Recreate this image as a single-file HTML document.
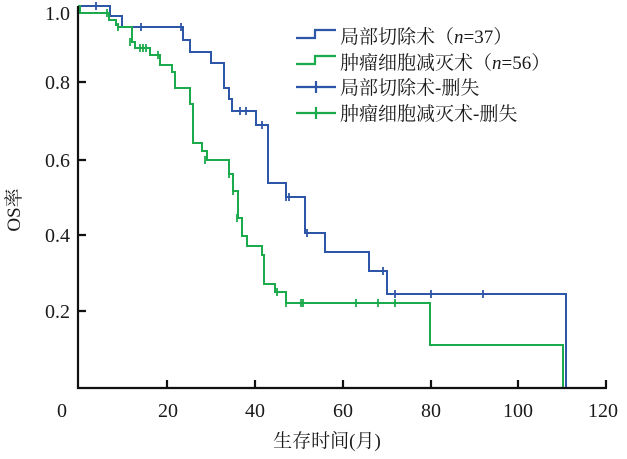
<!DOCTYPE html>
<html><head><meta charset="utf-8"><style>
body{margin:0;background:#fff}
svg text{font-family:"Liberation Serif","Noto Serif CJK SC",serif;fill:#1a1a1a}
</style></head><body>
<svg width="627" height="454" viewBox="0 0 627 454" xmlns="http://www.w3.org/2000/svg">
<g fill="none" stroke-width="2">
<path stroke="#2d56a8" d="M78,6H110V16H122V27H183V40H190V52H211V63H224V88H229V99H232V111H256V125H268V183H286V197H305V233H325V252H369V271H387V294H566V388"/>
<path stroke="#1bab4c" d="M78,6H80V13H109V20H116V25H118V27H132V42H135V48H150V55H160V65H172V72H175V88H190V104H193V143H202V151H207V160H229V174H233V191H238V218H242V236H247V246H262V255H264V284H275V292H286V303H430V345H563V388"/>
</g>
<g stroke="#2d56a8" stroke-width="1.8">
<path d="M96,2v8M141,23v8M181,23v8M240,107v8M246,107v8M262,121v8M286,193v8M289,193v8M307,229v8M383,267v8M395,290v8M431,290v8M483,290v8"/>
</g>
<g stroke="#1bab4c" stroke-width="1.8">
<path d="M107,9v8M118,23v8M130,38v8M140,44v8M143,44v8M146,44v8M158,51v8M205,156v8M229,170v8M233,187v8M237,214v8M277,288v8M286,299v8M301,299v8M303,299v8M356,299v8M378,299v8M395,299v8"/>
</g>
<g stroke="#111" stroke-width="2.2" fill="none">
<path d="M78,6V388H607"/>
<path d="M78,82h8M78,160h8M78,235h8M78,311h8M167,388v-8M255,388v-8M343,388v-8M431,388v-8M518,388v-8M606,388v-8"/>
</g>
<g font-size="20" text-anchor="end">
<text x="70" y="20">1.0</text><text x="70" y="89">0.8</text><text x="70" y="167">0.6</text><text x="70" y="242">0.4</text><text x="70" y="318">0.2</text>
</g>
<g font-size="20" text-anchor="middle">
<text x="62" y="417">0</text><text x="168" y="417">20</text><text x="255" y="417">40</text><text x="343" y="417">60</text><text x="431" y="417">80</text><text x="518" y="417">100</text><text x="603" y="417">120</text>
<text x="327" y="447" font-size="19">生存时间(月)</text>
<text transform="translate(20,210) rotate(-90)" font-size="19">OS率</text>
</g>
<g fill="none" stroke-width="2.2">
<path stroke="#2d56a8" d="M296,38H315V30H336"/>
<path stroke="#1bab4c" d="M296,64H315V56H336"/>
<path stroke="#2d56a8" d="M296,87H336M316,81v12"/>
<path stroke="#1bab4c" d="M296,113H336M316,107v12"/>
</g>
<g font-size="19">
<text x="340" y="43">局部切除术（<tspan font-style="italic">n</tspan>=37）</text>
<text x="340" y="69">肿瘤细胞减灭术（<tspan font-style="italic">n</tspan>=56）</text>
<text x="340" y="94">局部切除术-删失</text>
<text x="340" y="120">肿瘤细胞减灭术-删失</text>
</g>
</svg>
</body></html>
